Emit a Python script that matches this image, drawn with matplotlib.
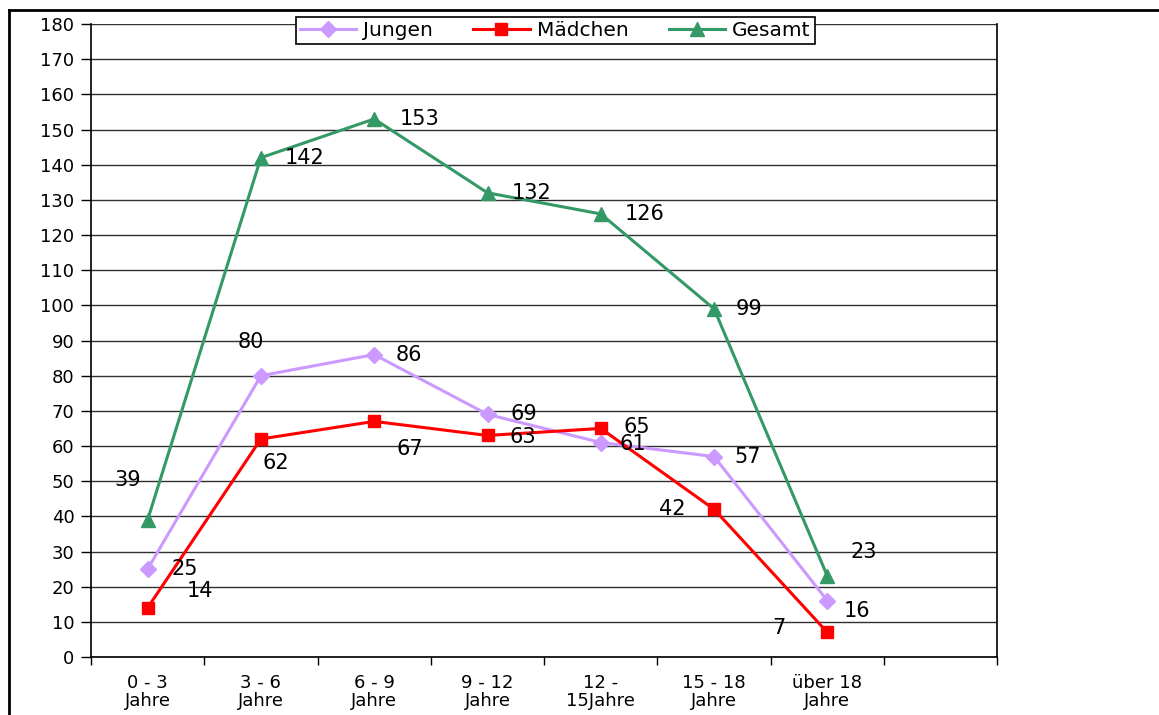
import matplotlib
matplotlib.use("Agg")
import matplotlib.pyplot as plt
from matplotlib.lines import Line2D

plt.rcParams['font.family'] = ['DejaVu Sans']

# data
categories = ["0 - 3\nJahre", "3 - 6\nJahre", "6 - 9\nJahre", "9 - 12\nJahre",
              "12 -\n15Jahre", "15 - 18\nJahre", "über 18\nJahre"]
jungen = [25, 80, 86, 69, 61, 57, 16]
maedchen = [14, 62, 67, 63, 65, 42, 7]
gesamt = [39, 142, 153, 132, 126, 99, 23]

# label offsets in pixels (dx, dy) relative to each point
off_jungen = [(37, 0), (-10, 34), (35, 0), (36, 0), (32, -1), (34, 0), (30, -10)]
off_maedchen = [(52, 17), (15, -24), (36, -28), (35, -2), (36, 1), (-42, 0), (-49, 4)]
off_gesamt = [(-20, 40), (44, 0), (45, 0), (44, 0), (44, 0), (35, 0), (36, 24)]

fig = plt.figure(figsize=(11.59, 7.15), dpi=100)
ax = fig.add_axes([0.0785, 0.0811, 0.782, 0.8853])

x = list(range(len(categories)))
series = [
    ("Jungen", jungen, "#CC99FF", "D", 8, off_jungen),
    ("Mädchen", maedchen, "#FF0000", "s", 9, off_maedchen),
    ("Gesamt", gesamt, "#339966", "^", 10, off_gesamt),
]
handles = []
for name, vals, col, mk, ms, offs in series:
    h, = ax.plot(x, vals, color=col, lw=2.2, marker=mk, markersize=ms,
                 markerfacecolor=col, markeredgecolor=col, label=name, zorder=3)
    handles.append(h)
    for xi, v, (dx, dy) in zip(x, vals, offs):
        ax.annotate(str(v), (xi, v), xytext=(dx, dy), textcoords='offset pixels',
                    ha='center', va='center', fontsize=15, color='black', zorder=4)

ax.set_xlim(-0.5, 7.5)
ax.set_ylim(0, 180)
ax.set_yticks(range(0, 181, 10))
ax.yaxis.grid(True, color='#303030', lw=1)
ax.set_axisbelow(True)
ax.tick_params(axis='y', labelsize=13, length=7, width=1, pad=5)

ax.set_xticks(x)
ax.set_xticklabels(categories, fontsize=13, linespacing=1.0)
ax.set_xticks([i - 0.5 for i in range(9)], minor=True)
ax.tick_params(axis='x', which='major', length=0, pad=12)
ax.tick_params(axis='x', which='minor', length=6, width=1)

for s in ['left', 'bottom']:
    ax.spines[s].set_linewidth(1.2)
ax.spines['top'].set_visible(False)
ax.spines['right'].set_linewidth(1.2)

# outer chart frame (top and left edge)
fig.add_artist(Line2D([9 / 1159, 1.0], [1 - 10 / 715, 1 - 10 / 715],
                      transform=fig.transFigure, color='black', lw=2))
fig.add_artist(Line2D([9 / 1159, 9 / 1159], [0, 1 - 10 / 715],
                      transform=fig.transFigure, color='black', lw=2))

leg = fig.legend(handles=handles, loc='center', bbox_to_anchor=(0.479, 0.957),
                 ncol=3, fontsize=14.5, frameon=True, fancybox=False,
                 edgecolor='black', framealpha=1, borderpad=0.2,
                 handlelength=2.8, columnspacing=2.0, handletextpad=0.35)
leg.get_frame().set_linewidth(1.2)

fig.savefig("out.png", dpi=100)
